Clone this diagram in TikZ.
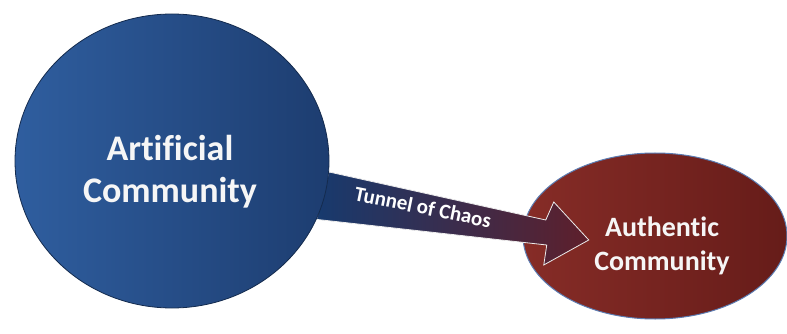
\documentclass[tikz,border=0pt]{standalone}
\usepackage{fontspec}
\setmainfont{Carlito}[Ligatures={NoCommon}]
\usetikzlibrary{shapes.geometric,calc,backgrounds}

\definecolor{artblue}{HTML}{2F5E9F}
\definecolor{artdark}{HTML}{1D3D70}
\definecolor{authred}{HTML}{862C27}
\definecolor{authdark}{HTML}{661C19}
\definecolor{authrim}{HTML}{5C7DB3}
\definecolor{tunnelblue}{HTML}{173A6E}
\definecolor{tunnelred}{HTML}{5E1F2B}

\pgfdeclarelayer{bottom}
\pgfsetlayers{bottom,background,main}

\tikzstyle{artificial}=[ellipse,minimum width=314pt,minimum height=294pt,inner sep=0pt,left color=artblue,right color=artdark,draw=artdark!70!black,line width=0.8pt]
\tikzstyle{authentic}=[ellipse,minimum width=264pt,minimum height=166pt,inner sep=0pt,left color=authred,right color=authdark,draw=authrim,line width=1pt]
\tikzstyle{biglabel}=[text=white!93!gray,font=\bfseries\fontsize{36}{42}\selectfont,align=center]
\tikzstyle{smalllabel}=[text=white!93!gray,font=\bfseries\fontsize{28}{34}\selectfont,align=center]
\tikzstyle{tunnel}=[text=white,font=\bfseries\fontsize{21}{24}\selectfont,rotate=-11.5]

\begin{document}
\begin{tikzpicture}[x=1pt,y=-1pt]
	\useasboundingbox (0,0) rectangle (787,334);
	%Adding the two communities
	\node[artificial] (art) at (172,161) {};
	\begin{pgfonlayer}{bottom}
		\node[authentic] (auth) at (655,236) {};
	\end{pgfonlayer}
	\node[biglabel] (artlabel) at (170,172) {Artificial\\Community};
	\node[smalllabel] (authlabel) at (662,246) {Authentic\\Community};
	%Adding the tunnel
	\coordinate (tip) at ($(auth.west)!0.5!(auth.center)+(0,4)$);
	\begin{scope}[on background layer]
		\draw[draw=white!85!gray,line width=0.8pt,left color=tunnelblue,right color=tunnelred]
			(art.-4) -- ($(tip)+(-43,-20)$) -- ($(tip)+(-35,-38)$) -- (tip)
			-- ($(tip)+(-45,25)$) -- ($(tip)+(-42,5)$) -- (art.-22) -- cycle;
	\end{scope}
	\node[tunnel] (tunnellabel) at (423,207) {Tunnel of Chaos};
\end{tikzpicture}
\end{document}
